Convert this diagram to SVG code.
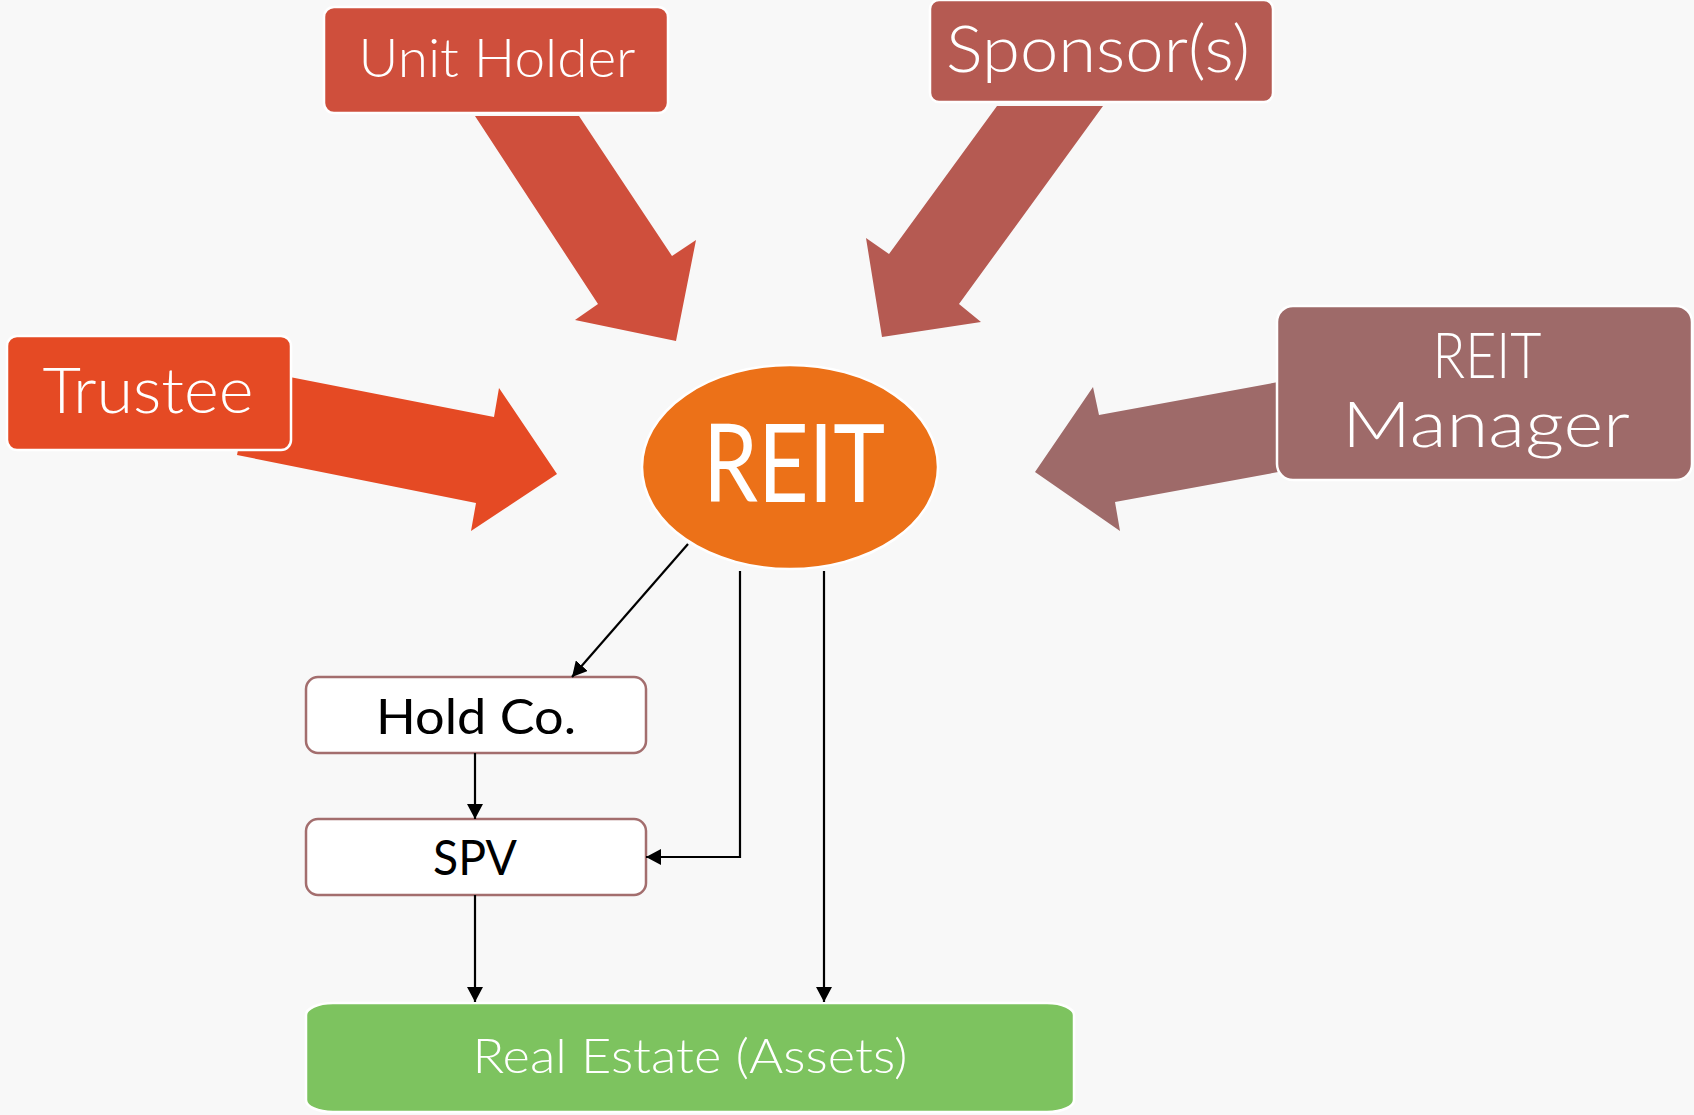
<svg xmlns="http://www.w3.org/2000/svg" width="1694" height="1115" viewBox="0 0 1694 1115">
  <defs>
    <style>
      .lbl { font-family: "Lato", "Liberation Sans", Arial, sans-serif; font-weight: 300; fill: #ffffff; text-anchor: middle; }
      .big { font-weight: 400; }
      .dark { font-family: "Lato", "Liberation Sans", Arial, sans-serif; font-weight: 400; fill: #000000; text-anchor: middle; }
      .edge { fill: none; stroke: #000000; stroke-width: 2.2; }
      .box { stroke: #ffffff; stroke-width: 2.5; }
      .sub { fill: #ffffff; stroke: #a36e6e; stroke-width: 2.5; }
    </style>
    <marker id="tip" markerUnits="userSpaceOnUse" markerWidth="16" markerHeight="16" refX="15" refY="8" orient="auto">
      <path d="M0,0 L15,8 L0,16 Z" fill="#000000"/>
    </marker>
  </defs>

  <rect x="0" y="0" width="1694" height="1115" fill="#f8f8f8"/>

  <!-- block arrows pointing at the REIT ellipse -->
  <g id="block-arrows">
    <polygon fill="#e54a24" points="254,370 494,417 499,388 557,474 471,531 476,503 237,455"/>
    <polygon fill="#cf4f3c" points="475,116 579,116 672,256 696,240 676,341 575,320 598,304"/>
    <polygon fill="#b55a52" points="997,106 1103,106 959,304 981,322 882,337 866,238 889,254"/>
    <polygon fill="#9e6a69" points="1300,378 1099,415 1093,387 1035,472 1120,531 1115,502 1300,468"/>
  </g>

  <g id="trustee">
    <rect class="box" x="7" y="336" width="284" height="114" rx="10" fill="#e54a24"/>
    <text class="lbl" x="148" y="413" font-size="63" textLength="211" lengthAdjust="spacingAndGlyphs">Trustee</text>
  </g>

  <g id="unit-holder">
    <rect class="box" x="324" y="7" width="344" height="106" rx="10" fill="#cf4f3c"/>
    <text class="lbl" x="497" y="77" font-size="53" textLength="277" lengthAdjust="spacingAndGlyphs">Unit Holder</text>
  </g>

  <g id="sponsors">
    <rect class="box" x="930" y="0" width="343" height="102" rx="9" fill="#b55a52"/>
    <text class="lbl" x="1098" y="72" font-size="66" textLength="304" lengthAdjust="spacingAndGlyphs">Sponsor(s)</text>
  </g>

  <g id="reit-manager">
    <rect class="box" x="1277" y="306" width="415" height="174" rx="16" fill="#9e6a69"/>
    <text class="lbl" x="1487" y="378" font-size="63" textLength="109" lengthAdjust="spacingAndGlyphs">REIT</text>
    <text class="lbl" x="1486" y="447" font-size="63" textLength="288" lengthAdjust="spacingAndGlyphs">Manager</text>
  </g>

  <g id="reit">
    <ellipse class="box" cx="790" cy="467" rx="148" ry="102" fill="#ec7118"/>
    <text class="lbl big" x="794" y="502" font-size="108" textLength="182" lengthAdjust="spacingAndGlyphs">REIT</text>
  </g>

  <g id="hold-co">
    <rect class="sub" x="306" y="677" width="340" height="76" rx="12"/>
    <text class="dark" x="476" y="734" font-size="49" textLength="200" lengthAdjust="spacingAndGlyphs">Hold Co.</text>
  </g>

  <g id="spv">
    <rect class="sub" x="306" y="819" width="340" height="76" rx="12"/>
    <text class="dark" x="475" y="875" font-size="49" textLength="84" lengthAdjust="spacingAndGlyphs">SPV</text>
  </g>

  <g id="real-estate">
    <rect class="box" x="306" y="1003" width="768" height="109" rx="27" ry="12" fill="#7dc35f"/>
    <text class="lbl" x="690" y="1073" font-size="48" textLength="435" lengthAdjust="spacingAndGlyphs">Real Estate (Assets)</text>
  </g>

  <!-- ownership connectors -->
  <g id="connectors">
    <line class="edge" x1="688" y1="544" x2="572" y2="677" marker-end="url(#tip)"/>
    <line class="edge" x1="475" y1="753" x2="475" y2="819" marker-end="url(#tip)"/>
    <polyline class="edge" points="740,571 740,857 646,857" marker-end="url(#tip)"/>
    <line class="edge" x1="824" y1="571" x2="824" y2="1002" marker-end="url(#tip)"/>
    <line class="edge" x1="475" y1="895" x2="475" y2="1002" marker-end="url(#tip)"/>
  </g>
</svg>
